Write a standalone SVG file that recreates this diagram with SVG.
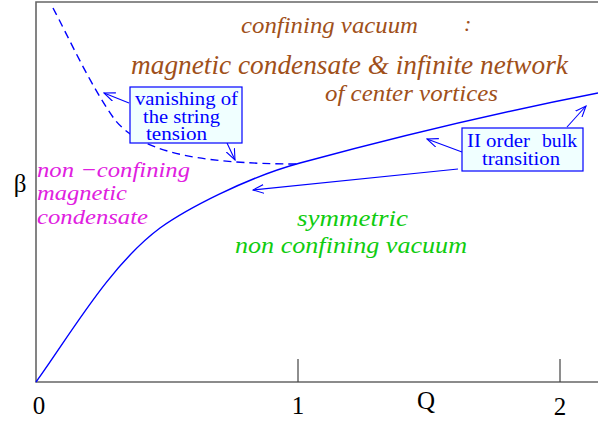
<svg xmlns="http://www.w3.org/2000/svg" width="598" height="421" viewBox="0 0 598 421">
<defs>
<style>
.ax{fill:none;stroke:#666;stroke-width:1.6}
.tick{fill:none;stroke:#444;stroke-width:1.2}
.num{font-family:"Liberation Serif",serif;font-size:25px;fill:#000}
.br{font-family:"Liberation Serif",serif;font-style:italic;fill:#a0501a}
.mg{font-family:"Liberation Serif",serif;font-style:italic;font-size:22px;fill:#e020e0}
.gr{font-family:"Liberation Serif",serif;font-style:italic;font-size:24px;fill:#10cc10}
.bl{font-family:"Liberation Serif",serif;font-size:18px;fill:#0000ff}
.box{fill:#f0ffff;stroke:#0000ff;stroke-width:1.2}
.cv{fill:none;stroke:#0000ff;stroke-width:1.4}
.ar{fill:none;stroke:#0000ff;stroke-width:1.1;marker-end:url(#ah)}
</style>
<marker id="ah" viewBox="0 0 12 10" refX="11" refY="5" markerWidth="12" markerHeight="10" markerUnits="userSpaceOnUse" orient="auto">
<path d="M0,0.5 L11,5 L0,9.5" fill="none" stroke="#0000ff" stroke-width="1.1"/>
</marker>
</defs>
<g id="axes">
<path class="ax" d="M598,2 H36 V382 H598"/>
<path class="tick" d="M298,359 V382 M560,359 V382"/>
<text class="num" x="39" y="414" text-anchor="middle">0</text>
<text class="num" x="298" y="414" text-anchor="middle">1</text>
<text class="num" x="426" y="409" text-anchor="middle">Q</text>
<text class="num" x="560" y="415" text-anchor="middle">2</text>
<text class="num" x="20" y="192" font-size="28" text-anchor="middle">β</text>
</g>
<g id="connectors">
<path id="bulk-curve" class="cv" d="M36,382 C70,335 110,265 160,228 C185,210 245,178 300,163 C370,144 480,116 598,93"/>
<path id="string-curve" class="cv" stroke-dasharray="8,5" d="M53,8 C68,36 90,85 115,120 C140,150 190,164 300,164"/>
<path class="ar" d="M129,103 L104,93"/>
<path class="ar" d="M227,143 L235,160"/>
<path class="ar" d="M462,152 L427,139"/>
<path class="ar" d="M458,169 L253,190"/>
<path class="ar" d="M567,127 L586,106"/>
</g>
<g id="labels">
<text class="br" x="241" y="33" font-size="24" textLength="177" lengthAdjust="spacingAndGlyphs">confining vacuum</text>
<text class="br" x="464" y="31" font-size="22">:</text>
<text class="br" x="131" y="74" font-size="27" textLength="437" lengthAdjust="spacingAndGlyphs">magnetic condensate &amp; infinite network</text>
<text class="br" x="325" y="101" font-size="24" textLength="173" lengthAdjust="spacingAndGlyphs">of center vortices</text>
<text class="mg" x="37" y="177" textLength="153" lengthAdjust="spacingAndGlyphs">non −confining</text>
<text class="mg" x="37" y="200" textLength="90" lengthAdjust="spacingAndGlyphs">magnetic</text>
<text class="mg" x="37" y="224" textLength="111" lengthAdjust="spacingAndGlyphs">condensate</text>
<text class="gr" x="297" y="226" textLength="111" lengthAdjust="spacingAndGlyphs">symmetric</text>
<text class="gr" x="235" y="253" textLength="232" lengthAdjust="spacingAndGlyphs">non confining vacuum</text>
</g>
<g id="node-vanishing">
<rect class="box" x="130" y="87" width="112" height="56"/>
<text class="bl" x="135" y="105" textLength="103" lengthAdjust="spacingAndGlyphs">vanishing of</text>
<text class="bl" x="143" y="123" textLength="77" lengthAdjust="spacingAndGlyphs">the string</text>
<text class="bl" x="146" y="140" textLength="61" lengthAdjust="spacingAndGlyphs">tension</text>
</g>
<g id="node-bulk">
<rect class="box" x="462" y="128" width="121" height="43"/>
<text class="bl" x="467" y="147" textLength="63" lengthAdjust="spacingAndGlyphs">II order</text>
<text class="bl" x="542" y="147" font-size="17" textLength="35" lengthAdjust="spacingAndGlyphs">bulk</text>
<text class="bl" x="482" y="165" textLength="78" lengthAdjust="spacingAndGlyphs">transition</text>
</g>
</svg>
